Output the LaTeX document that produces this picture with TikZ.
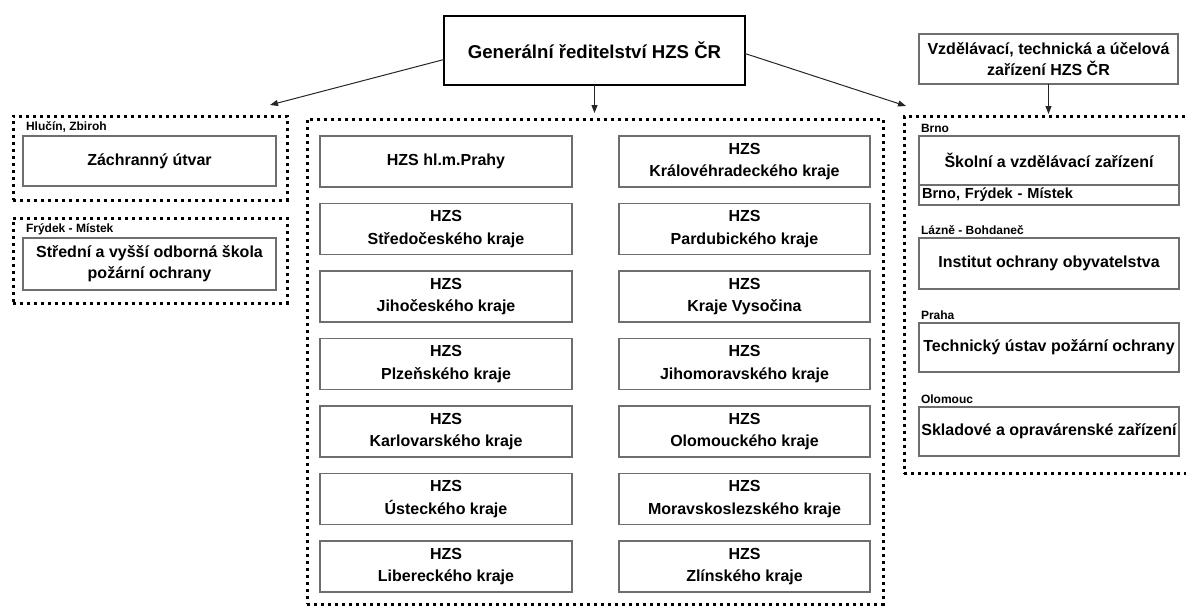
\documentclass[tikz,border=0pt]{standalone}
\usepackage{fontspec}
\setmainfont{Liberation Sans}
\usetikzlibrary{arrows.meta,calc}
\definecolor{boxgray}{RGB}{110,110,110}
\begin{document}
\begin{tikzpicture}[x=1pt,y=-1pt,
  every node/.style={inner sep=0pt, outer sep=0pt},
  sz/.style 2 args={minimum width=#1pt, minimum height=#2pt},
  orgbox/.style={draw=boxgray, line width=1.3pt, fill=white, align=center, font=\fontsize{16}{22.5}\selectfont\bfseries},
  headbox/.style={draw=black, line width=2pt, fill=white, font=\fontsize{18.6}{22}\selectfont\bfseries},
  group/.style={draw=black, line width=3pt, dash pattern=on 3pt off 4pt},
  place/.style={anchor=west, font=\fontsize{12}{14}\selectfont\bfseries},
  arr/.style={draw=black!85, line width=1pt, -{Triangle[length=8pt,width=6pt]}}
]
\useasboundingbox (0,0) rectangle (1186,606);

% containers
\node[group, sz={274}{84}] (gA) at (150,158) {};
\node[group, sz={274}{85}] (gB) at (150,260.5) {};
\node[group, sz={576}{485}] (gM) at (595,361.5) {};
\node[group, sz={291}{357}] (gR) at (1049.5,295) {};

% top boxes
\node[headbox, sz={301}{69}] (main) at (594.5,50.5) {Generální ředitelství HZS ČR};
\node[orgbox, sz={259}{50}, font=\fontsize{16}{21}\selectfont\bfseries] (vtz) at (1048.5,59) {Vzdělávací, technická a účelová\\zařízení HZS ČR};

% left groups
\node[place] (lA) at (26,126.5) {Hlučín, Zbiroh};
\node[orgbox, sz={253}{50}] (zu) at (149.5,161) {Záchranný útvar};
\node[place] (lB) at (26,229) {Frýdek - Místek};
\node[orgbox, sz={253}{52}, font=\fontsize{16}{21}\selectfont\bfseries] (sos) at (149.5,264) {Střední a vyšší odborná škola\\požární ochrany};

% middle group, left column
\node[orgbox, sz={252}{51}] (m1) at (446,161.5) {HZS hl.m.Prahy};
\node[orgbox, sz={252}{51}] (m2) at (446,229) {HZS\\Středočeského kraje};
\node[orgbox, sz={252}{51}] (m3) at (446,296.5) {HZS\\Jihočeského kraje};
\node[orgbox, sz={252}{51}] (m4) at (446,364) {HZS\\Plzeňského kraje};
\node[orgbox, sz={252}{51}] (m5) at (446,431.5) {HZS\\Karlovarského kraje};
\node[orgbox, sz={252}{51}] (m6) at (446,499) {HZS\\Ústeckého kraje};
\node[orgbox, sz={252}{51}] (m7) at (446,566.5) {HZS\\Libereckého kraje};
% middle group, right column
\node[orgbox, sz={251}{51}] (n1) at (744.5,161.5) {HZS\\Královéhradeckého kraje};
\node[orgbox, sz={251}{51}] (n2) at (744.5,229) {HZS\\Pardubického kraje};
\node[orgbox, sz={251}{51}] (n3) at (744.5,296.5) {HZS\\Kraje Vysočina};
\node[orgbox, sz={251}{51}] (n4) at (744.5,364) {HZS\\Jihomoravského kraje};
\node[orgbox, sz={251}{51}] (n5) at (744.5,431.5) {HZS\\Olomouckého kraje};
\node[orgbox, sz={251}{51}] (n6) at (744.5,499) {HZS\\Moravskoslezského kraje};
\node[orgbox, sz={251}{51}] (n7) at (744.5,566.5) {HZS\\Zlínského kraje};

% right group
\node[place] (lR1) at (921,128) {Brno};
\node[orgbox, sz={260}{49}] (szz) at (1049,160.5) {Školní a vzdělávací zařízení};
\node[draw=boxgray, line width=1.3pt, fill=white, anchor=north, text width=254pt, inner xsep=3pt, minimum height=20pt, align=left, font=\fontsize{14.6}{16}\selectfont\bfseries] (szzb) at (szz.south) {Brno, Frýdek - Místek};
\node[place] (lR2) at (921,230) {Lázně - Bohdaneč};
\node[orgbox, sz={260}{51}] (ioo) at (1049,263.5) {Institut ochrany obyvatelstva};
\node[place] (lR3) at (921,315) {Praha};
\node[orgbox, sz={260}{49}] (tupo) at (1049,347.5) {Technický ústav požární ochrany};
\node[place] (lR4) at (921,399) {Olomouc};
\node[orgbox, sz={260}{49}] (soz) at (1049,431.5) {Skladové a opravárenské zařízení};

% arrows
\coordinate (tipL) at (270,105);
\coordinate (tipM) at (594.5,113);
\coordinate (tipR) at (906,106);
\coordinate (tipV) at (1048.5,114);
\draw[arr] ($(main.west)+(0,9)$) -- (tipL);
\draw[arr] (main.south) -- (tipM);
\draw[arr] ($(main.east)+(0,3)$) -- (tipR);
\draw[arr] (vtz.south) -- (tipV);
\end{tikzpicture}
\end{document}
